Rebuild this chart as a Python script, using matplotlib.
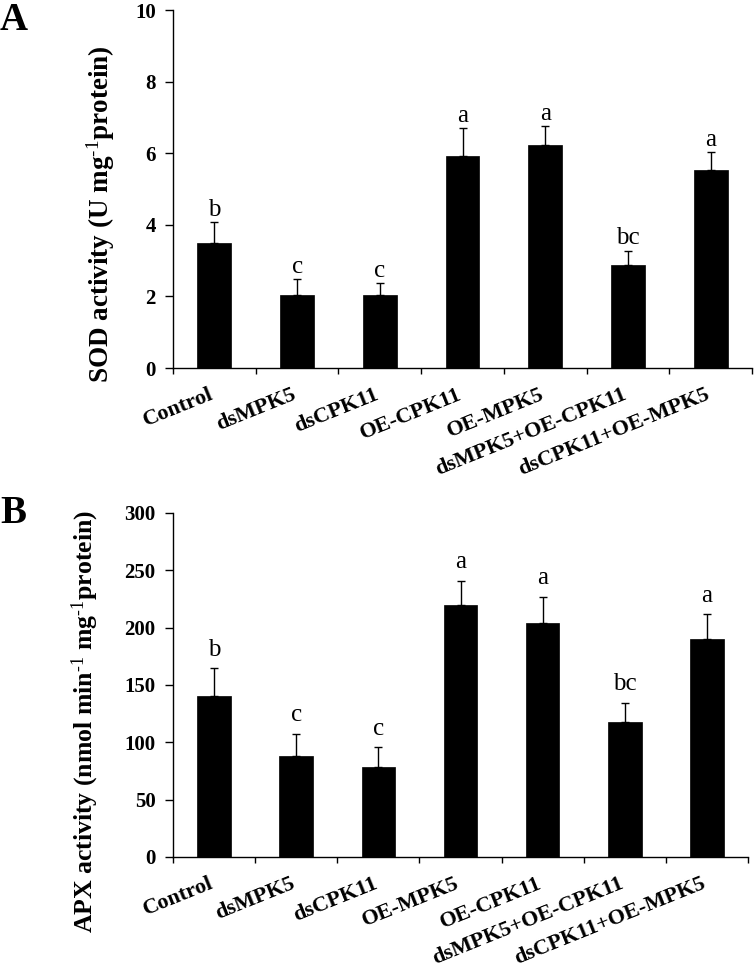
import numpy as np
import matplotlib
matplotlib.use('Agg')
import matplotlib.pyplot as plt
from matplotlib.transforms import ScaledTranslation

plt.rcParams['font.family'] = ['Liberation Serif', 'DejaVu Serif']
plt.rcParams['mathtext.fontset'] = 'custom'
plt.rcParams['mathtext.rm'] = 'Liberation Serif'
plt.rcParams['mathtext.bf'] = 'Liberation Serif:bold'
plt.rcParams['mathtext.it'] = 'Liberation Serif:italic'

# Panel A: SOD activity
sod_groups = ['Control', 'dsMPK5', 'dsCPK11', 'OE-CPK11', 'OE-MPK5',
              'dsMPK5+OE-CPK11', 'dsCPK11+OE-MPK5']
sod_mean = [3.50, 2.05, 2.05, 5.93, 6.24, 2.88, 5.52]
sod_err = [0.57, 0.43, 0.33, 0.78, 0.51, 0.40, 0.51]
sod_letters = ['b', 'c', 'c', 'a', 'a', 'bc', 'a']

# Panel B: APX activity
apx_groups = ['Control', 'dsMPK5', 'dsCPK11', 'OE-MPK5', 'OE-CPK11',
              'dsMPK5+OE-CPK11', 'dsCPK11+OE-MPK5']
apx_mean = [140, 88, 78.5, 220, 204, 117.5, 190.5]
apx_err = [24.5, 19.5, 17, 21, 23, 17, 21]
apx_letters = ['b', 'c', 'c', 'a', 'a', 'bc', 'a']

W, H = 754, 968
fig = plt.figure(figsize=(W / 100, H / 100), dpi=100)
axA = fig.add_axes([173 / W, 1 - 368 / H, 579 / W, 358 / H])
axB = fig.add_axes([173 / W, 1 - 857 / H, 575 / W, 344 / H])


def draw_panel(ax, groups, mean, err, letters, ymax, ystep, ylabel, ylabel_size, letter_gap, label_xy):
    x = np.arange(len(groups))
    ax.bar(x, mean, width=0.41, color='black', edgecolor='black', linewidth=0.5, zorder=2)
    ax.errorbar(x, mean, yerr=[np.zeros(len(err)), err], fmt='none', ecolor='black',
                elinewidth=1.0, capsize=3, capthick=1.0, zorder=1)
    for xi, m, e, lt in zip(x, mean, err, letters):
        ax.annotate(lt, (xi, m + e), xytext=(0, letter_gap), textcoords='offset points',
                    ha='center', va='baseline', fontsize=18)
    ax.set_xlim(-0.5, len(groups) - 0.5)
    ax.set_ylim(0, ymax)
    ax.set_yticks(np.arange(0, ymax + ystep / 2, ystep))
    ax.spines['top'].set_visible(False)
    ax.spines['right'].set_visible(False)
    for s in ['left', 'bottom']:
        ax.spines[s].set_linewidth(1.0)
    ax.tick_params(axis='y', direction='out', length=5.5, width=1.0, pad=7, labelsize=15)
    for lab in ax.get_yticklabels():
        lab.set_fontweight('bold')
    ax.set_xticks(x)
    ax.set_xticks(np.arange(-0.5, len(groups)), minor=True)
    ax.tick_params(axis='x', which='major', length=0, pad=12)
    ax.tick_params(axis='x', which='minor', direction='out', length=4, width=1.0)
    ax.set_xticklabels(groups, rotation=22, ha='right', rotation_mode='anchor',
                       fontsize=16, fontweight='bold')
    off = ScaledTranslation(-4 / 72, 0, fig.dpi_scale_trans)
    for lab in ax.get_xticklabels():
        lab.set_transform(lab.get_transform() + off)
    ax.set_ylabel(ylabel, fontsize=ylabel_size, fontweight='bold')
    ax.yaxis.set_label_coords(*label_xy)


draw_panel(axA, sod_groups, sod_mean, sod_err, sod_letters, 10, 2,
           'SOD activity (U mg$^{\\text{-1}}$protein)', 19.5, 4.5, (-0.097, 0.43))
draw_panel(axB, apx_groups, apx_mean, apx_err, apx_letters, 300, 50,
           'APX activity (nmol min$^{\\text{-1}}$ mg$^{\\text{-1}}$protein)', 18.5, 9,
           (-0.125, 0.395))

fig.text(0.0, 1 - 2 / H, 'A', ha='left', va='top', fontsize=28, fontweight='bold')
fig.text(0.0, 1 - 495 / H, 'B', ha='left', va='top', fontsize=28, fontweight='bold')

fig.savefig('out.png', dpi=100)
